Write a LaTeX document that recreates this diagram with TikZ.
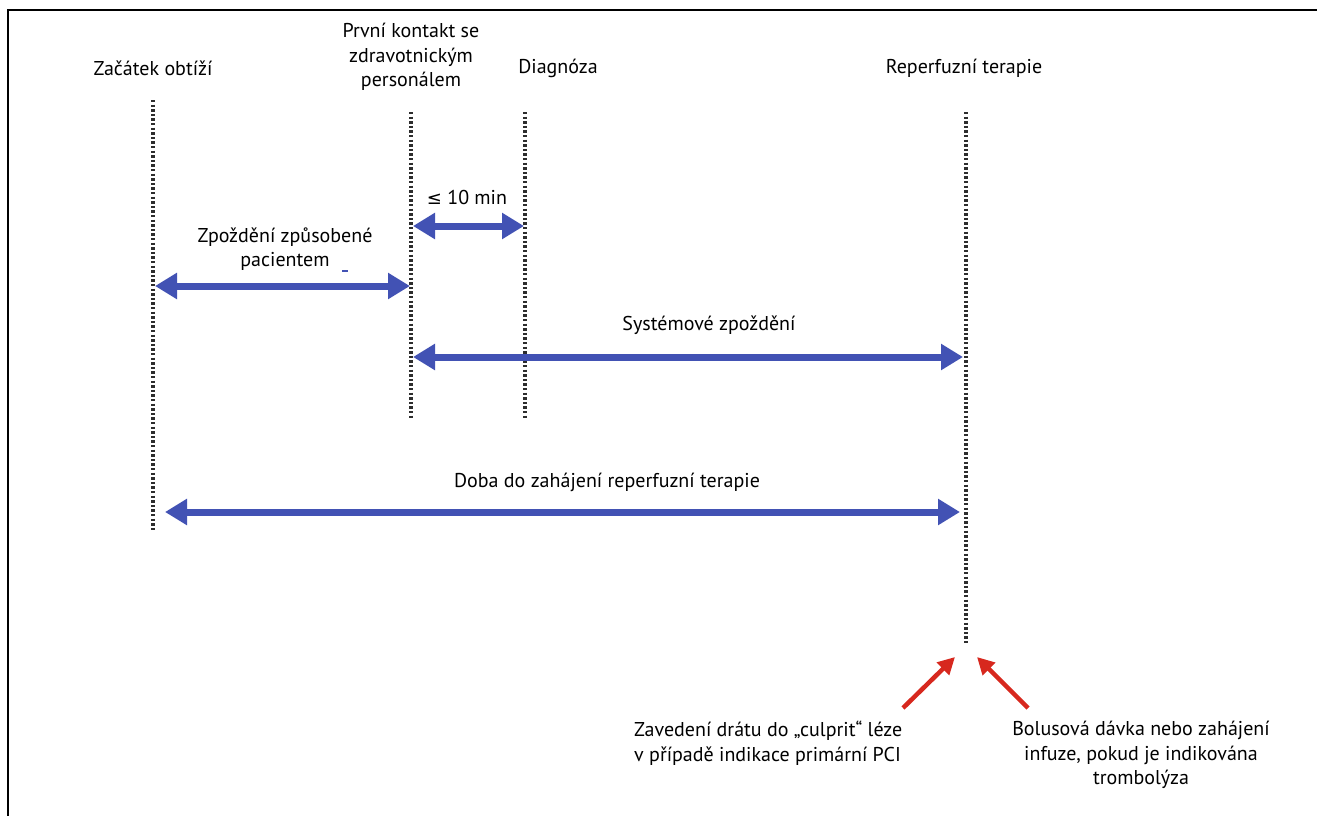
\documentclass[tikz,border=0pt]{standalone}
\usepackage{fontspec}
\setmainfont{PT Sans}
\newfontfamily\symf{DejaVu Sans}
\usetikzlibrary{arrows.meta}
\definecolor{barblue}{RGB}{66,82,180}
\definecolor{barred}{RGB}{215,40,30}
\definecolor{dotgray}{RGB}{45,45,45}
\tikzset{
  timeline/.style={line width=4pt, dotgray, dash pattern=on 2.3pt off 2.3pt},
  span/.style={barblue, line width=7pt, {Triangle[length=22pt,width=25pt]}-{Triangle[length=22pt,width=25pt]}},
  pointer/.style={barred, line width=4.5pt, -{Triangle[length=17pt,width=17pt]}},
  lbl/.style={font=\fontsize{20}{24.5}\selectfont, align=center, inner sep=0pt},
}
\begin{document}
\begin{tikzpicture}[x=1pt,y=-1pt]
\useasboundingbox (0,0) rectangle (1317,816);
\draw[line width=2pt] (8,816) -- (8,10) -- (1317,10);

% headings
\node[lbl] (t1) at (153,68) {Začátek obtíží};
\node[lbl] (t2) at (411,57) {První kontakt se\\zdravotnickým\\personálem};
\node[lbl] (t3) at (558,68) {Diagnóza};
\node[lbl] (t4) at (964,68) {Reperfuzní terapie};

% timelines
\coordinate (a1) at (153,100); \coordinate (a2) at (153,532);
\coordinate (b1) at (411,112); \coordinate (b2) at (411,420);
\coordinate (c1) at (525,112); \coordinate (c2) at (525,420);
\coordinate (d1) at (966,112); \coordinate (d2) at (966,645);
\draw[timeline] (a1) -- (a2);
\draw[timeline] (b1) -- (b2);
\draw[timeline] (c1) -- (c2);
\draw[timeline] (d1) -- (d2);

% spans
\coordinate (s1l) at (413,226); \coordinate (s1r) at (524,226);
\draw[span] (s1l) -- (s1r);
\node[lbl] (l1) at (467,197) {{\symf\fontsize{18}{20}\selectfont ≤} 10 min};

\coordinate (s2l) at (155,286); \coordinate (s2r) at (410,286);
\draw[span] (s2l) -- (s2r);
\node[lbl] (l2) at (285,249) {Zpoždění způsobené\\pacientem};
\coordinate (m1) at (342,271); \coordinate (m2) at (348,271);
\draw[barblue, line width=2pt] (m1) -- (m2);

\coordinate (s3l) at (413,357); \coordinate (s3r) at (963,357);
\draw[span] (s3l) -- (s3r);
\node[lbl] (l3) at (709,325) {Systémové zpoždění};

\coordinate (s4l) at (165,512); \coordinate (s4r) at (960,512);
\draw[span] (s4l) -- (s4r);
\node[lbl] (l4) at (607,482) {Doba do zahájení reperfuzní terapie};

% red pointers
\coordinate (p1) at (903,708); \coordinate (h1) at (955,657);
\coordinate (p2) at (1028,708); \coordinate (h2) at (977,657);
\draw[pointer] (p1) -- (h1);
\draw[pointer] (p2) -- (h2);

\node[lbl, align=left, anchor=west] (n1) at (634,743) {Zavedení drátu do „culprit“ léze\\v případě indikace primární PCI};
\node[lbl] (n2) at (1141,755) {Bolusová dávka nebo zahájení\\infuze, pokud je indikována\\trombolýza};
\end{tikzpicture}
\end{document}
